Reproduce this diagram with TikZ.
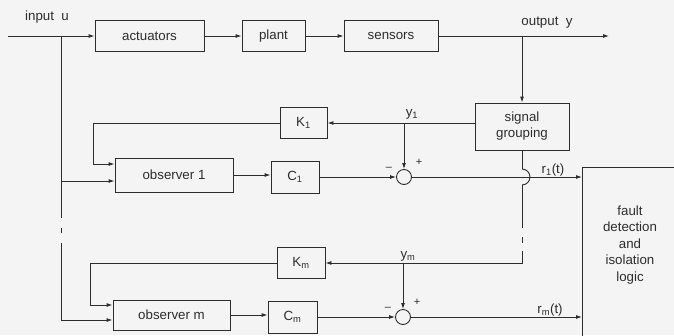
\documentclass[tikz,border=0pt]{standalone}
\usepackage{fontspec}
\setmainfont{Liberation Sans}
\usetikzlibrary{arrows.meta}
\definecolor{ink}{RGB}{45,45,45}
\definecolor{paper}{RGB}{244,244,244}
\begin{document}
\begin{tikzpicture}[x=1pt,y=-1pt,
  every node/.style={font=\fontsize{13.3}{16.5}\selectfont, text=ink},
  blk/.style 2 args={draw=ink, line width=0.9pt, rectangle, inner sep=0pt,
    minimum width=#1pt, minimum height=#2pt},
  sumc/.style={draw=ink, line width=0.9pt, circle, inner sep=0pt, minimum size=15pt},
  ln/.style={draw=ink, line width=0.9pt},
  arr/.style={-{Latex[length=6pt,width=4pt]}},
  sgn/.style={font=\fontsize{11}{12}\selectfont}
]
\fill[paper] (0,0) rectangle (674,335);
\useasboundingbox (0,0) rectangle (674,335);
\clip (0,0) rectangle (674,335);

% blocks
\node[blk={109}{31}] (act) at (149.5,36) {actuators};
\node[blk={63}{31}] (plant) at (273.5,36) {plant};
\node[blk={94}{31}] (sens) at (391,36) {sensors};
\node[blk={94}{47}, align=center, font=\fontsize{13.3}{16}\selectfont] (sg) at (522,126.5) {signal\\grouping};
\node[blk={47}{31}] (K1) at (303.5,123) {K\textsubscript{1}};
\node[blk={118}{34}] (obs1) at (174,175) {observer 1};
\node[blk={48}{32}] (C1) at (295,177) {C\textsubscript{1}};
\node[sumc] (s1) at (404,177) {};
\node[blk={48}{31}] (Km) at (301,263) {K\textsubscript{m}};
\node[blk={117}{30}] (obsm) at (171.5,315) {observer m};
\node[blk={49}{32}] (Cm) at (292.5,317) {C\textsubscript{m}};
\node[sumc] (sm) at (403,317) {};
\node[draw=ink, line width=0.9pt, rectangle, inner sep=0pt, anchor=north west,
  minimum width=130pt, minimum height=190pt] (fdi) at (582,167) {};
\node[align=center] (fdit) at (630,245) {fault\\detection\\and\\isolation\\logic};

% labels
\node (ulab) at (47,17) {input\ \ u};
\node (ylab) at (547,23) {output\ \ y};
\node (y1lab) at (412,114) {y\textsubscript{1}};
\node (ymlab) at (408,256) {y\textsubscript{m}};
\node (r1lab) at (553,170) {r\textsubscript{1}(t)};
\node (rmlab) at (550,310) {r\textsubscript{m}(t)};
\node[sgn] (s1m) at (389,169) {--};
\node[sgn] (s1p) at (419,162) {+};
\node[sgn] (smm) at (388,309) {--};
\node[sgn] (smp) at (417,302) {+};

% coordinates
\coordinate (ustart) at (8,36);
\coordinate (ub) at (61,36);
\coordinate (yend) at (609,36);
\coordinate (yb) at (522,36);
\coordinate (y1b) at (404,123);
\coordinate (ymb) at (403,263);
\coordinate (o1up) at ([yshift=11pt]obs1.west);
\coordinate (o1low) at ([yshift=-6pt]obs1.west);
\coordinate (omup) at ([yshift=10pt]obsm.west);
\coordinate (omlow) at ([yshift=-5pt]obsm.west);
\coordinate (hopa) at (522,169);
\coordinate (hopb) at (522,185);

% main chain
\draw[ln,arr] (ustart) -- (act.west);
\draw[ln,arr] (act.east) -- (plant.west);
\draw[ln,arr] (plant.east) -- (sens.west);
\draw[ln,arr] (sens.east) -- (yend);
\draw[ln,arr] (yb) -- (sg.north);

% y1 branch
\draw[ln,arr] (sg.west |- K1) -- (K1.east);
\draw[ln,arr] (y1b) -- (s1.north);
\draw[ln,arr] (K1.west) -- (93,123) |- (o1up);

% input branch
\draw[ln,arr] (ub |- o1low) -- (o1low);
\draw[ln] (ub) -- (61,218);
\draw[ln] (61,228) -- (61,233);
\draw[ln,arr] (61,243) |- (omlow);

% observer 1 chain
\draw[ln,arr] (obs1.east) -- (obs1.east -| C1.west);
\draw[ln,arr] (C1.east) -- (s1.west);
\draw[ln,arr] (s1.east) -- (s1.east -| fdi.west);

% signal grouping to ym (with hop over r1)
\draw[ln] (sg.south) -- (hopa);
\draw[ln] (hopa) arc[start angle=-90,end angle=90,radius=8];
\draw[ln] (hopb) -- (522,228);
\draw[ln] (522,237) -- (522,243);
\draw[ln,arr] (522,251) |- (Km.east);
\draw[ln,arr] (ymb) -- (sm.north);
\draw[ln,arr] (Km.west) -- (90,263) |- (omup);

% observer m chain
\draw[ln,arr] (obsm.east) -- (obsm.east -| Cm.west);
\draw[ln,arr] (Cm.east) -- (sm.west);
\draw[ln,arr] (sm.east) -- (sm.east -| fdi.west);
\end{tikzpicture}
\end{document}
